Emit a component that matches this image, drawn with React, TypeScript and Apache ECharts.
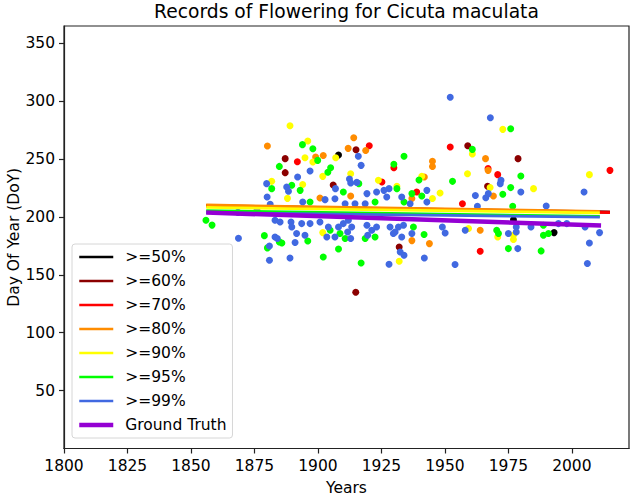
import React, { useEffect, useRef } from "react";
import * as echarts from "echarts";

// Flowering records (year, day of year), grouped by the highest confidence threshold met
const pts50: number[][] = [[1908.1, 253.5], [1993.0, 186.5], [1977.0, 197.5]];
const pts60: number[][] = [
  [1887.1, 250.4], [1887.1, 238.3], [1915.0, 258.1], [1906.0, 227.6], [1932.0, 174.1],
  [1914.9, 135.0], [1959.0, 261.6], [1978.8, 250.4], [1966.8, 226.5],
];
const pts70: number[][] = [
  [1891.9, 247.8], [1920.2, 261.6], [1929.9, 242.6], [1925.2, 230.2], [1938.9, 221.6],
  [1952.1, 260.4], [1967.0, 241.8], [1970.8, 236.6], [1956.9, 211.5], [1963.9, 170.4],
  [2015.0, 240.3],
];
const pts80: number[][] = [
  [1880.1, 261.3], [1899.1, 251.8], [1902.1, 253.2], [1914.1, 268.5], [1918.8, 257.5],
  [1911.9, 259.3], [1912.9, 218.1], [1900.8, 216.4], [1937.0, 179.6], [1937.0, 215.9],
  [1945.1, 248.1], [1945.1, 243.7], [1966.0, 250.4], [1967.0, 240.3], [1941.9, 234.5],
  [1969.1, 218.1], [1963.9, 188.5], [1943.9, 177.0],
];
const pts90: number[][] = [
  [1889.0, 278.9], [1896.0, 265.6], [1894.9, 251.2], [1898.0, 247.5], [1901.9, 235.1],
  [1907.0, 251.2], [1912.9, 237.4], [1923.8, 231.7], [1931.1, 226.5], [1881.8, 230.8],
  [1894.0, 228.0], [1888.0, 216.1], [1901.9, 186.5], [1932.0, 161.8], [1972.8, 275.7],
  [1960.8, 254.4], [2006.9, 236.6], [1958.9, 237.4], [1940.9, 235.1], [1967.8, 225.4],
  [1984.9, 224.5], [1948.1, 220.7], [1945.1, 215.9], [1977.0, 184.2], [1977.0, 180.5],
  [1970.8, 182.7], [1959.3, 190.0],
];
const pts95: number[][] = [
  [1893.9, 262.5], [1898.0, 259.0], [1899.9, 248.9], [1884.8, 243.7], [1905.0, 242.6],
  [1903.9, 238.6], [1933.9, 252.4], [1929.9, 245.5], [1910.0, 221.6], [1916.1, 228.8],
  [1931.1, 224.5], [1937.0, 220.2], [1881.8, 224.5], [1889.7, 227.4], [1893.0, 223.0],
  [1896.9, 212.9], [1922.5, 212.9], [1933.9, 212.9], [1937.6, 191.4], [1904.8, 188.5],
  [1908.7, 185.7], [1910.7, 181.4], [1918.6, 181.4], [1922.5, 182.7], [1878.9, 183.9],
  [1885.8, 177.6], [1884.8, 178.5], [1880.1, 173.3], [1896.0, 179.3], [1908.1, 172.4],
  [1902.1, 165.5], [1917.0, 160.3], [1975.9, 276.3], [1960.8, 258.4], [1939.8, 232.0],
  [1953.0, 230.8], [1979.9, 235.4], [1975.9, 225.4], [1972.8, 219.6], [1940.9, 218.1],
  [1976.7, 209.2], [1988.8, 184.2], [1990.8, 185.7], [1975.0, 172.7], [1987.9, 170.7],
  [1970.4, 188.5], [1971.1, 185.7], [1941.8, 184.8], [1988.8, 192.8], [1855.9, 197.2],
  [1858.3, 193.0],
];
const pts99: number[][] = [
  [1896.9, 239.7], [1892.0, 234.5], [1915.9, 252.4], [1917.0, 244.6], [1906.9, 224.5],
  [1912.4, 232.8], [1912.9, 229.3], [1915.3, 229.9], [1928.0, 224.5], [1923.1, 221.6],
  [1926.0, 223.0], [1919.3, 220.2], [1879.8, 228.8], [1880.0, 217.3], [1887.7, 225.9],
  [1888.4, 222.2], [1881.2, 211.0], [1902.8, 215.0], [1894.0, 212.9], [1906.7, 215.8],
  [1910.7, 211.5], [1914.6, 211.5], [1918.6, 211.5], [1927.1, 217.3], [1933.0, 217.3],
  [1936.3, 211.5], [1883.1, 197.2], [1885.1, 195.7], [1889.4, 195.7], [1889.7, 191.4],
  [1893.6, 194.3], [1896.9, 194.3], [1900.8, 195.7], [1904.1, 191.4], [1908.1, 191.4],
  [1910.0, 194.3], [1912.0, 197.2], [1913.3, 191.4], [1919.3, 192.8], [1921.2, 188.5],
  [1923.1, 191.4], [1928.4, 191.4], [1930.4, 187.1], [1931.7, 191.4], [1933.7, 192.8],
  [1891.6, 185.7], [1894.9, 184.2], [1903.5, 182.7], [1906.7, 182.7], [1911.7, 187.1],
  [1912.9, 181.4], [1919.6, 184.2], [1929.7, 185.7], [1933.0, 182.7], [1937.0, 185.7],
  [1883.1, 182.7], [1884.0, 181.4], [1880.9, 175.0], [1891.0, 177.9], [1868.7, 181.6],
  [1932.4, 169.8], [1933.9, 167.0], [1880.9, 162.6], [1889.0, 164.6], [1928.0, 159.2],
  [1952.1, 303.5], [1967.9, 285.8], [1972.1, 231.7], [1971.8, 228.8], [1962.0, 218.5],
  [1966.1, 216.7], [1967.1, 220.2], [1979.9, 221.6], [2004.8, 221.6], [1942.9, 223.0],
  [1942.9, 212.9], [1962.8, 209.2], [1989.9, 209.5], [2010.9, 186.5], [2006.9, 177.6],
  [2006.1, 159.8], [1954.0, 159.0], [1978.7, 172.7], [1975.0, 185.7], [1958.0, 188.5],
  [1949.0, 191.4], [1950.1, 186.2], [1941.9, 164.6], [1983.9, 191.4], [1978.1, 191.4],
  [1978.1, 187.1], [2005.2, 191.4], [1998.0, 194.3], [1994.7, 194.3], [1876.0, 205.8],
  [1868.5, 204.0],
];

// Linear trend endpoints per threshold: [startYear, startDoY, endYear, endDoY]
const trend50 = [1856, 209.6, 2015, 204.1];
const trend60 = [1856, 209.9, 2015, 204.4];
const trend70 = [1856, 209.5, 2015, 203.8];
const trend80 = [1856, 210.4, 2011, 204.8];
const trend90 = [1856, 208.3, 2011, 203.6];
const trend95 = [1856, 205.5, 2011, 200.6];
const trend99 = [1856, 203.8, 2011, 199.8];
const trendTruth = [1856, 203.9, 2011.5, 192.6];

const labels = [">=50%", ">=60%", ">=70%", ">=80%", ">=90%", ">=95%", ">=99%", "Ground Truth"];
const colors = ["#000000", "#8b0000", "#ff0000", "#ff8c00", "#ffff00", "#00ff00", "#4169e1", "#9400d3"];
const pointSets = [pts50, pts60, pts70, pts80, pts90, pts95, pts99];
const trends = [trend50, trend60, trend70, trend80, trend90, trend95, trend99, trendTruth];

const FONT = "DejaVu Sans";

export default function App() {
  const ref = useRef<HTMLDivElement>(null);

  useEffect(() => {
    if (!ref.current) return;
    const chart = echarts.init(ref.current, undefined, { renderer: "svg" });

    const scatterSeries = pointSets.map((pts, i) => ({
      type: "scatter",
      name: "pts" + i,
      data: pts,
      symbolSize: 7,
      itemStyle: { color: colors[i], opacity: 1 },
      z: 2,
    }));

    const lineSeries = trends.map((t, i) => ({
      type: "line",
      name: labels[i],
      data: [[t[0], t[1]], [t[2], t[3]]],
      symbol: "none",
      lineStyle: { color: colors[i], width: i === 7 ? 4.5 : 2.7 },
      itemStyle: { color: colors[i] },
      z: 3 + i,
    }));

    chart.setOption({
      animation: false,
      textStyle: { fontFamily: FONT, fontWeight: "normal" },
      title: {
        text: "Records of Flowering for Cicuta maculata",
        left: 346.5,
        top: 2,
        padding: 0,
        textAlign: "center",
        textStyle: { fontFamily: FONT, fontSize: 18.7, fontWeight: "normal", color: "#000" },
      },
      grid: {
        left: 64,
        top: 26,
        right: 4,
        bottom: 47.5,
        outerBoundsMode: "none",
        containLabel: false,
        show: true,
        borderColor: "#222",
        borderWidth: 1.2,
        backgroundColor: "transparent",
      },
      legend: {
        orient: "vertical",
        left: 72,
        top: 244,
        padding: [5, 6, 5, 5],
        itemWidth: 34,
        itemHeight: 14,
        itemGap: 8,
        backgroundColor: "rgba(255,255,255,0.85)",
        borderColor: "#d6d6d6",
        borderWidth: 1,
        borderRadius: 3,
        data: labels.map((name, i) => ({
          name,
          itemStyle: { opacity: 0 },
          lineStyle: { color: colors[i], width: i === 7 ? 4.5 : 2.7, opacity: 1 },
        })),
        textStyle: {
          fontFamily: FONT,
          fontSize: 15.5,
          fontWeight: "normal",
          color: "#000",
          padding: [0, 0, 0, 7],
        },
      },
      xAxis: {
        type: "value",
        min: 1800,
        max: 2022.5,
        interval: 25,
        name: "Years",
        nameLocation: "middle",
        nameGap: 31,
        nameMoveOverlap: false,
        nameTextStyle: { fontFamily: FONT, fontSize: 15.5, color: "#000" },
        axisLine: { show: true, lineStyle: { color: "#222", width: 1.2 } },
        axisTick: { show: true, length: 5, lineStyle: { color: "#222", width: 1.2 } },
        axisLabel: {
          fontFamily: FONT,
          fontSize: 15.5,
          color: "#000",
          margin: 9,
          showMaxLabel: false,
          formatter: (v: number) => String(v),
        },
        splitLine: { show: false },
      },
      yAxis: {
        type: "value",
        min: 0,
        max: 365,
        interval: 50,
        name: "Day Of Year (DoY)",
        nameLocation: "middle",
        nameGap: 42,
        nameMoveOverlap: false,
        nameRotate: 90,
        nameTextStyle: { fontFamily: FONT, fontSize: 15.5, color: "#000" },
        axisLine: { show: true, lineStyle: { color: "#222", width: 1.2 } },
        axisTick: { show: true, length: 5, lineStyle: { color: "#222", width: 1.2 } },
        axisLabel: {
          fontFamily: FONT,
          fontSize: 15.5,
          color: "#000",
          margin: 9,
          showMinLabel: false,
          showMaxLabel: false,
        },
        splitLine: { show: false },
      },
      series: [...scatterSeries, ...lineSeries],
    });

    return () => chart.dispose();
  }, []);

  return (
    <div
      ref={ref}
      style={{ position: "fixed", left: 0, top: 0, width: 633, height: 496, background: "#fff" }}
    />
  );
}
